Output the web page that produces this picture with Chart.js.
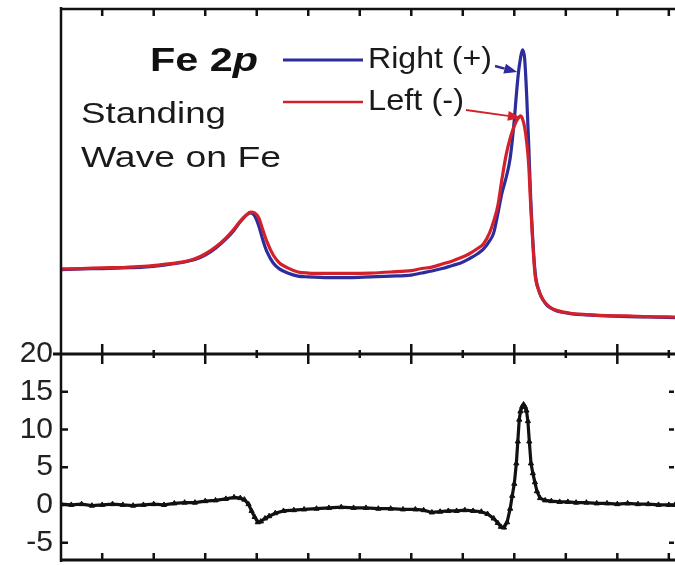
<!DOCTYPE html>
<html>
<head>
<meta charset="utf-8">
<script src="https://cdn.jsdelivr.net/npm/chart.js@4/dist/chart.umd.min.js"></script>
<style>
  html, body { margin: 0; padding: 0; background: #fff; }
</style>
</head>
<body>
<canvas id="fe2pChart" width="675" height="565"></canvas>
<script>
// binding energy (eV), shared by both spectra
const energia = [727.0, 726.0, 725.0, 724.0, 723.0, 722.0, 721.0, 720.5, 720.0, 719.5, 719.0, 718.6, 718.3, 718.0,
  717.8, 717.6, 717.4, 717.2, 717.0, 716.7, 716.4, 716.0, 715.5, 715.0, 714.0, 713.0, 712.0, 711.0, 710.0,
  709.5, 709.0, 708.5, 708.0, 707.6, 707.2, 706.8, 706.5, 706.2, 706.0, 705.8, 705.6, 705.4, 705.2, 705.0,
  704.9, 704.8, 704.7, 704.6, 704.5, 704.4, 704.3, 704.2, 704.0, 703.8, 703.6, 703.4, 703.2, 703.0,
  702.6, 702.2, 701.5, 700.5, 699.5, 698.5, 697.2];

const direita = [24.4, 24.6, 24.7, 24.9, 25.1, 25.7, 26.6, 27.3, 28.6, 30.6, 33.2, 35.8, 38.2, 40.2,
  40.8, 39.9, 37.0, 32.9, 29.5, 26.3, 24.6, 23.4, 22.5, 22.3, 22.1, 22.1, 22.3, 22.5, 22.8,
  23.4, 24.0, 24.7, 25.6, 26.3, 27.5, 28.9, 30.3, 32.7, 35.0, 40.5, 46.5, 50.9, 56.6, 67.6,
  74.9, 81.2, 85.5, 87.9, 85.5, 74.9, 60.4, 44.5, 24.3, 18.2, 15.6, 14.0, 13.2, 12.6,
  12.0, 11.6, 11.3, 11.0, 10.8, 10.7, 10.5];

const esquerda = [24.6, 24.7, 24.9, 25.0, 25.3, 25.9, 26.7, 27.5, 28.9, 30.9, 33.5, 36.1, 38.4, 40.2,
  41.0, 40.8, 39.3, 35.8, 32.4, 28.6, 26.3, 24.9, 23.7, 23.4, 23.3, 23.3, 23.4, 23.7, 24.1,
  24.7, 25.1, 26.0, 26.9, 27.8, 28.9, 30.4, 31.8, 35.0, 38.4, 42.8, 50.5, 57.4, 62.4, 65.9,
  67.3, 68.2, 68.8, 67.9, 65.6, 61.3, 54.6, 42.5, 23.4, 18.2, 15.6, 14.2, 13.3, 12.7,
  12.1, 11.7, 11.4, 11.1, 11.0, 10.8, 10.7];

// difference (%), own energy grid
const energiaDif = [727.0, 726.5, 726.0, 725.5, 725.0, 724.5, 724.0, 723.5, 723.0, 722.5, 722.0,
  721.5, 721.0, 720.5, 720.0, 719.5, 719.0, 718.6, 718.3, 718.1, 717.9, 717.75, 717.6, 717.45, 717.3, 717.1,
  716.9, 716.6, 716.2, 715.7, 715.2, 714.6, 714.0, 713.4, 712.8, 712.2, 711.6, 711.0, 710.4, 709.8, 709.4, 709.0,
  708.6, 708.2, 707.8, 707.4, 707.0, 706.6, 706.3, 706.0, 705.8, 705.65, 705.5, 705.35, 705.2, 705.1, 705.0,
  704.9, 704.83, 704.76, 704.7, 704.62, 704.55, 704.48, 704.41, 704.34, 704.27, 704.19, 704.1, 704.0,
  703.9, 703.75, 703.5, 703.2, 702.8, 702.4, 702.0, 701.5, 701.0, 700.5, 700.0,
  699.5, 699.0, 698.5, 698.0, 697.5, 697.2];

const diferenca = [0.1, 0.0, 0.1, -0.1, 0.0, 0.1, 0.0, -0.1, 0.0, 0.1, 0.0,
  0.2, 0.3, 0.3, 0.5, 0.6, 0.8, 1.0, 0.9, 0.7, 0.1, -0.8, -1.6, -2.3, -2.2, -1.8,
  -1.5, -1.1, -0.8, -0.7, -0.6, -0.5, -0.4, -0.3, -0.4, -0.4, -0.5, -0.5, -0.6, -0.6, -0.7, -1.0,
  -0.9, -0.8, -0.8, -0.7, -0.8, -0.9, -1.2, -1.8, -2.4, -2.9, -3.0, -2.3, -0.5, 1.2, 2.8,
  5.5, 8.4, 11.3, 12.4, 13.0, 13.3, 13.0, 12.5, 11.1, 8.4, 5.5, 4.2, 3.0,
  1.8, 0.9, 0.6, 0.5, 0.4, 0.4, 0.3, 0.3, 0.2, 0.2, 0.1,
  0.2, 0.1, 0.1, 0.0, 0.0, 0.0];

const ticksMaiores = [725, 720, 715, 710, 705, 700];
const ticksMenores = [722.5, 717.5, 712.5, 707.5, 702.5, 697.5];
const ticksDif = [15, 10, 5, 0, -5];

const AZUL = '#2c2c9c';
const VERMELHO = '#d3212b';
const FONTE = "'Liberation Sans', Arial, sans-serif";

function pares(xs, ys) {
  return xs.map((x, i) => ({ x: x, y: ys[i] }));
}

// draw text squeezed/stretched to a given width
function textoLargura(ctx, partes, x, y, largura, cor) {
  ctx.save();
  ctx.fillStyle = cor;
  ctx.textBaseline = 'alphabetic';
  let total = 0;
  partes.forEach(p => { ctx.font = p.font; total += ctx.measureText(p.t).width; });
  ctx.translate(x, y);
  ctx.scale(largura / total, 1);
  let cx = 0;
  partes.forEach(p => {
    ctx.font = p.font;
    ctx.fillText(p.t, cx, 0);
    cx += ctx.measureText(p.t).width;
  });
  ctx.restore();
}

function seta(ctx, x0, y0, x1, y1, cor, lw) {
  const ang = Math.atan2(y1 - y0, x1 - x0);
  const len = 13, half = 5;
  ctx.save();
  ctx.strokeStyle = cor;
  ctx.fillStyle = cor;
  ctx.lineWidth = lw;
  ctx.beginPath();
  ctx.moveTo(x0, y0);
  ctx.lineTo(x1 - len * Math.cos(ang), y1 - len * Math.sin(ang));
  ctx.stroke();
  ctx.beginPath();
  ctx.moveTo(x1, y1);
  ctx.lineTo(x1 - len * Math.cos(ang) - half * Math.sin(ang), y1 - len * Math.sin(ang) + half * Math.cos(ang));
  ctx.lineTo(x1 - len * Math.cos(ang) + half * Math.sin(ang), y1 - len * Math.sin(ang) - half * Math.cos(ang));
  ctx.closePath();
  ctx.fill();
  ctx.restore();
}

function semPadding(s) {
  s.width = 61;
  s.paddingTop = 0;
  s.paddingBottom = 0;
  s.paddingLeft = 0;
  s.paddingRight = 0;
}

// frame, inward ticks and the annotations
const moldura = {
  id: 'moldura',
  afterDatasetsDraw(chart) {
    const ctx = chart.ctx;
    const a = chart.chartArea;
    const xs = chart.scales.x;
    const yd = chart.scales.yDif;
    const yt = chart.scales.yTopo;
    const meio = yd.getPixelForValue(20);

    ctx.save();
    ctx.strokeStyle = '#111';
    ctx.lineCap = 'butt';

    ctx.lineWidth = 2.5;
    ctx.beginPath();
    ctx.moveTo(a.left, a.top - 1); ctx.lineTo(a.left, a.bottom + 2);
    ctx.moveTo(a.left - 1, a.top + 1); ctx.lineTo(a.right, a.top + 1);
    ctx.stroke();

    ctx.lineWidth = 3;
    ctx.beginPath();
    ctx.moveTo(a.left - 8, meio); ctx.lineTo(a.right, meio);
    ctx.moveTo(a.left, a.bottom); ctx.lineTo(a.right, a.bottom);
    ctx.stroke();

    ctx.lineWidth = 2.5;
    ctx.beginPath();
    ticksMaiores.concat(ticksMenores).forEach(v => {
      const px = xs.getPixelForValue(v);
      const maior = ticksMaiores.includes(v);
      ctx.moveTo(px, a.top); ctx.lineTo(px, a.top + 8);
      ctx.moveTo(px, meio - (maior ? 10 : 4)); ctx.lineTo(px, meio + (maior ? 10 : 4));
      ctx.moveTo(px, a.bottom); ctx.lineTo(px, a.bottom - 7);
    });
    ticksDif.forEach(v => {
      const py = yd.getPixelForValue(v);
      ctx.moveTo(a.left, py); ctx.lineTo(a.left + 7, py);
      ctx.moveTo(a.right - 1, py); ctx.lineTo(a.right - 6, py);
    });
    ctx.stroke();
    ctx.restore();

    // annotations
    textoLargura(ctx, [{ t: 'Fe 2', font: 'bold 34px ' + FONTE }, { t: 'p', font: 'italic bold 34px ' + FONTE }],
      150, 71, 108, '#111');
    textoLargura(ctx, [{ t: 'Standing', font: '30px ' + FONTE }], 81, 123, 145, '#1a1a1a');
    textoLargura(ctx, [{ t: 'Wave on Fe', font: '30px ' + FONTE }], 81, 167, 200, '#1a1a1a');
    textoLargura(ctx, [{ t: 'Right (+)', font: '30px ' + FONTE }], 368, 68, 124, '#1a1a1a');
    textoLargura(ctx, [{ t: 'Left (-)', font: '30px ' + FONTE }], 368, 110, 96, '#1a1a1a');

    ctx.save();
    ctx.lineWidth = 3;
    ctx.strokeStyle = AZUL;
    ctx.beginPath(); ctx.moveTo(283, 60); ctx.lineTo(363, 60); ctx.stroke();
    ctx.lineWidth = 2.5;
    ctx.strokeStyle = VERMELHO;
    ctx.beginPath(); ctx.moveTo(283, 102); ctx.lineTo(363, 102); ctx.stroke();
    ctx.restore();

    seta(ctx, 495, 66, xs.getPixelForValue(704.86), yt.getPixelForValue(81.5), AZUL, 2.5);
    seta(ctx, 466, 110, xs.getPixelForValue(704.68), yt.getPixelForValue(68.3), VERMELHO, 2);
  }
};

const ctx = document.getElementById('fe2pChart').getContext('2d');
new Chart(ctx, {
  type: 'line',
  data: {
    datasets: [
      {
        label: 'Left (-)',
        data: pares(energia, esquerda),
        yAxisID: 'yTopo',
        borderColor: VERMELHO,
        borderWidth: 3.2,
        pointRadius: 0,
        cubicInterpolationMode: 'monotone'
      },
      {
        label: 'Right (+)',
        data: pares(energia, direita),
        yAxisID: 'yTopo',
        borderColor: AZUL,
        borderWidth: 3.2,
        pointRadius: 0,
        cubicInterpolationMode: 'monotone'
      },
      {
        label: 'Difference',
        data: pares(energiaDif, diferenca),
        yAxisID: 'yDif',
        borderColor: '#111',
        backgroundColor: '#111',
        borderWidth: 3.2,
        pointStyle: 'triangle',
        pointRadius: 3,
        pointBorderWidth: 1,
        tension: 0
      }
    ]
  },
  options: {
    responsive: false,
    animation: false,
    // autoPadding would leave room for the end points on the right
    layout: { autoPadding: false, padding: { top: 8, bottom: 5, left: 0, right: 0 } },
    plugins: {
      legend: { display: false },
      tooltip: { enabled: false }
    },
    scales: {
      x: {
        type: 'linear',
        reverse: true,
        min: 697.2,
        max: 727,
        display: false,
        afterFit: s => { s.paddingLeft = 0; s.paddingRight = 0; }
      },
      yDif: {
        type: 'linear',
        position: 'left',
        stack: 'paineis',
        stackWeight: 206,
        min: -7.3,
        max: 20,
        grid: { display: false, drawTicks: false },
        border: { display: false },
        ticks: {
          stepSize: 5,
          includeBounds: false,
          autoSkip: false,
          padding: 8,
          color: '#222',
          font: { size: 30, family: FONTE }
        },
        afterFit: semPadding
      },
      yTopo: {
        type: 'linear',
        position: 'left',
        stack: 'paineis',
        stackWeight: 346,
        min: 0,
        max: 100,
        grid: { display: false, drawTicks: false },
        border: { display: false },
        ticks: { display: false },
        afterFit: semPadding
      }
    }
  },
  plugins: [moldura]
});
</script>
</body>
</html>
